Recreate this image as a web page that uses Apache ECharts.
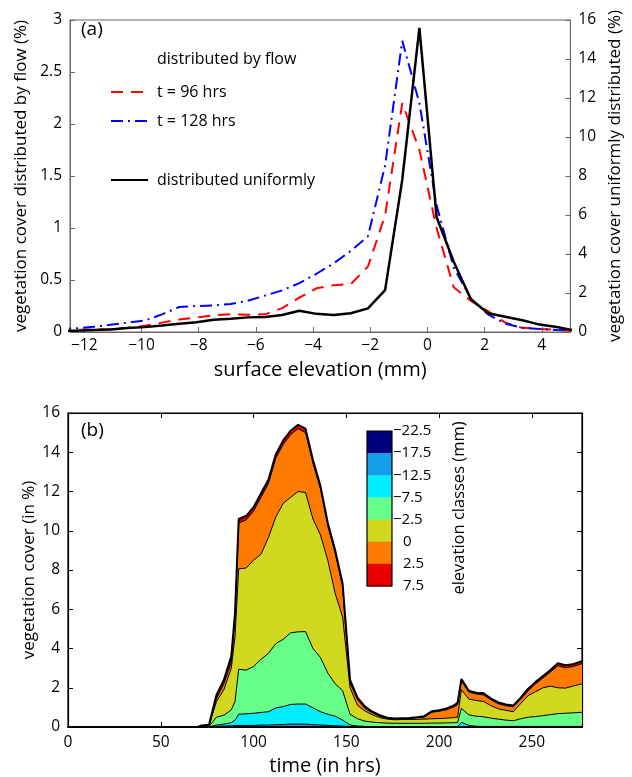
<!DOCTYPE html>
<html><head><meta charset="utf-8">
<script src="https://cdn.jsdelivr.net/npm/echarts@6/dist/echarts.min.js"></script>
<style>html,body{margin:0;padding:0;background:#fff}#c{width:632px;height:777px}</style>
</head><body><div id="c"></div>
<script>
// ---------- panel (a) ----------
const elevation = [-12.88, -12.28, -11.68, -11.08, -10.48, -9.88, -9.28, -8.68, -8.08, -7.48, -6.88, -6.28, -5.68, -5.08, -4.48, -3.88, -3.28, -2.68, -2.08, -1.48, -0.88, -0.28, 0.32, 0.92, 1.52, 2.12, 2.72, 3.32, 3.92, 4.52, 5.12];
const flow96  = [0.015, 0.02, 0.025, 0.03, 0.04, 0.06, 0.09, 0.12, 0.14, 0.16, 0.17, 0.165, 0.17, 0.23, 0.33, 0.42, 0.45, 0.46, 0.63, 1.12, 2.2, 1.75, 1.0, 0.43, 0.3, 0.2, 0.09, 0.04, 0.03, 0.02, 0.01];
const flow128 = [0.03, 0.035, 0.05, 0.07, 0.09, 0.11, 0.17, 0.24, 0.25, 0.255, 0.27, 0.30, 0.35, 0.40, 0.47, 0.56, 0.66, 0.78, 0.92, 1.6, 2.8, 2.2, 1.22, 0.62, 0.32, 0.17, 0.08, 0.04, 0.03, 0.02, 0.015];
const uniform = [0.05, 0.07, 0.1, 0.13, 0.2, 0.25, 0.33, 0.42, 0.5, 0.63, 0.68, 0.75, 0.77, 0.87, 1.09, 0.93, 0.87, 0.96, 1.21, 2.15, 7.8, 15.6, 5.9, 3.6, 1.68, 0.96, 0.78, 0.6, 0.38, 0.26, 0.08];
const elevTicks = [-12, -10, -8, -6, -4, -2, 0, 2, 4];

// ---------- panel (b) ----------
const times = [0, 70, 72, 76, 80, 84, 88, 90, 92, 96, 100, 104, 108, 112, 116, 120, 124, 128, 132, 136, 140, 144, 148, 152, 156, 160, 164, 168, 172, 176, 180, 184, 188, 192, 196, 200, 204, 208, 210, 212, 216, 220, 224, 228, 232, 236, 240, 244, 248, 252, 256, 260, 264, 268, 272, 277];
const classM225 = [0,0,0,0,0.01,0.01,0.01,0.01,0.02,0.02,0.02,0.02,0.02,0.03,0.03,0.03,0.03,0.03,0.03,0.02,0.02,0.01,0.01,0.01,0,0,0,0,0,0,0,0,0,0,0,0,0,0,0,0,0,0,0,0,0,0,0,0,0,0,0,0,0,0,0,0];
const classM175 = [0,0,0,0,0.03,0.04,0.05,0.06,0.06,0.06,0.06,0.08,0.08,0.09,0.10,0.12,0.12,0.12,0.09,0.08,0.06,0.05,0.04,0.01,0.01,0.01,0,0,0,0,0,0,0,0,0,0,0,0,0,0.02,0.01,0,0,0,0,0,0,0,0,0,0,0,0,0,0,0];
const classM125 = [0,0,0,0.01,0.06,0.10,0.16,0.28,0.57,0.59,0.62,0.64,0.68,0.85,0.91,1.00,1.02,1.02,0.86,0.68,0.57,0.49,0.30,0.08,0.04,0.02,0.02,0.02,0.02,0.02,0.02,0.02,0.02,0.02,0.02,0.02,0.02,0.02,0.03,0.22,0.07,0.04,0.03,0.03,0.03,0.03,0.03,0.03,0.03,0.03,0.03,0.03,0.03,0.03,0.03,0.03];
const classM75  = [0,0,0.01,0.02,0.40,0.45,0.65,0.95,2.29,2.23,2.38,2.71,2.97,3.28,3.43,3.65,3.68,3.69,3.02,2.77,2.10,1.65,1.50,0.55,0.37,0.27,0.23,0.20,0.18,0.17,0.17,0.17,0.17,0.17,0.18,0.18,0.19,0.20,0.20,0.71,0.54,0.51,0.49,0.42,0.37,0.32,0.29,0.39,0.47,0.50,0.55,0.60,0.65,0.67,0.69,0.72];
const classM25  = [0,0,0.02,0.03,0.79,1.30,2.13,3.30,5.12,5.20,5.42,5.35,5.90,6.45,6.93,6.90,7.15,7.09,6.60,6.25,5.75,4.60,3.75,1.35,0.68,0.52,0.37,0.26,0.20,0.18,0.19,0.19,0.20,0.21,0.22,0.23,0.24,0.26,0.27,0.95,0.80,0.80,0.78,0.63,0.52,0.50,0.46,0.78,1.10,1.27,1.42,1.45,1.32,1.28,1.36,1.45];
const class0    = [0,0,0.03,0.04,0.16,0.30,0.30,1.00,2.34,2.45,2.50,2.90,2.75,3.00,3.00,3.20,3.20,3.05,2.85,2.35,1.75,2.05,1.55,0.25,0.30,0.13,0.10,0.07,0.04,0.04,0.04,0.05,0.08,0.10,0.33,0.37,0.43,0.54,0.65,0.45,0.36,0.33,0.33,0.30,0.26,0.23,0.25,0.22,0.25,0.40,0.50,0.72,1.12,1.04,1.00,1.02];
const class25   = [0,0,0.02,0.02,0.18,0.20,0.30,0.20,0.20,0.20,0.20,0.20,0.20,0.20,0.20,0.20,0.20,0.20,0.15,0.15,0.15,0.15,0.15,0.15,0.10,0.10,0.06,0.05,0.03,0.02,0.03,0.03,0.03,0.05,0.05,0.05,0.07,0.08,0.10,0.10,0.07,0.07,0.09,0.07,0.07,0.07,0.07,0.08,0.10,0.10,0.10,0.10,0.13,0.13,0.12,0.13];
const classValues = [classM225, classM175, classM125, classM75, classM25, class0, class25];
const classNames  = ['−22.5 to −17.5', '−17.5 to −12.5', '−12.5 to −7.5', '−7.5 to −2.5', '−2.5 to 0', '0 to 2.5', '2.5 to 7.5'];
const classColors = ['#00007f', '#14a0e8', '#00eeff', '#66ff88', '#d0d820', '#ff7a00', '#e80000'];
const classBounds = ['−22.5', '−17.5', '−12.5', '−7.5', '−2.5', '0', '2.5', '7.5'];
const timeTicks = [0, 50, 100, 150, 200, 250];

const FONT = 'Open Sans';
const minus = v => String(v).replace('-', '\u2212');

// stacked layers: cumulative tops, drawn from the top layer downwards so each
// opaque area covers the part below the next boundary
const cumulative = [];
classValues.forEach((vals, k) => {
  cumulative.push(vals.map((v, i) => +(v + (k ? cumulative[k - 1][i] : 0)).toFixed(4)));
});
const areaSeries = [];
for (let k = classValues.length - 1; k >= 0; k--) {
  areaSeries.push({
    name: classNames[k], type: 'line', xAxisIndex: 1, yAxisIndex: 2,
    symbol: 'none', smooth: false,
    data: times.map((t, i) => [t, cumulative[k][i]]),
    lineStyle: { color: '#000', width: k === classValues.length - 1 ? 2 : 1 },
    areaStyle: { color: classColors[k], opacity: 1, origin: 'start' },
    itemStyle: { color: classColors[k] },
    emphasis: { disabled: true }
  });
}

// colorbar (legend of the classes), top = most negative class
const cbX = 367, cbY = 431, cbW = 25, cbH = 155;
const band = cbH / classColors.length;
const gfx = [];
for (let i = 0; i < classColors.length; i++) {
  gfx.push({ type: 'rect', shape: { x: cbX, y: cbY + i * band, width: cbW, height: band + 0.5 }, style: { fill: classColors[i] }, silent: true });
}
gfx.push({ type: 'rect', shape: { x: cbX, y: cbY, width: cbW, height: cbH }, style: { fill: 'none', stroke: '#000', lineWidth: 1.2 }, silent: true });
classBounds.forEach((lab, i) => {
  const neg = lab.startsWith('−');
  gfx.push({ type: 'text', x: neg ? cbX + cbW + 1 : cbX + cbW + 11, y: cbY + i * band,
    style: { text: lab, font: '15px "' + FONT + '"', fill: '#000', verticalAlign: 'middle', align: 'left' }, silent: true });
});
gfx.push({ type: 'text', x: 459, y: 508, rotation: Math.PI / 2,
  style: { text: 'elevation classes (mm)', font: '16.5px "' + FONT + '"', fill: '#000', align: 'center', verticalAlign: 'middle' }, silent: true });
gfx.push({ type: 'text', x: 81, y: 30, style: { text: '(a)', font: '19px "' + FONT + '"', fill: '#000', verticalAlign: 'middle' }, silent: true });
gfx.push({ type: 'text', x: 81, y: 431, style: { text: '(b)', font: '19px "' + FONT + '"', fill: '#000', verticalAlign: 'middle' }, silent: true });
gfx.push({ type: 'text', x: 157, y: 59, style: { text: 'distributed by flow', font: '16px "' + FONT + '"', fill: '#000', verticalAlign: 'middle' }, silent: true });

const grayAxis = '#666';
const lblStyle = { color: '#000', fontFamily: FONT, fontSize: 15.5 };
const nameStyle = { color: '#000', fontFamily: FONT, fontSize: 17 };
const xNameStyle = { color: '#000', fontFamily: FONT, fontSize: 20 };
const legendCommon = { left: 105, itemWidth: 37, itemHeight: 14, orient: 'vertical', selectedMode: false,
  itemStyle: { opacity: 0, borderWidth: 0 },
  textStyle: { color: '#000', fontFamily: FONT, fontSize: 16, padding: [0, 0, 0, 4] } };

const option = {
  animation: false,
  backgroundColor: '#fff',
  textStyle: { fontFamily: FONT },
  grid: [
    { left: 70, top: 20, width: 512, height: 312, show: true, borderColor: grayAxis, borderWidth: 1 },
    { left: 68, top: 413, width: 514, height: 314, show: true, borderColor: '#000', borderWidth: 1.2 }
  ],
  legend: [
    Object.assign({}, legendCommon, { top: 79, data: ['t = 96 hrs'] }),
    Object.assign({}, legendCommon, { top: 108, data: ['t = 128 hrs'] }),
    Object.assign({}, legendCommon, { top: 167, data: ['distributed uniformly'] })
  ],
  xAxis: [
    { type: 'value', gridIndex: 0, min: -12.5, max: 5,
      name: 'surface elevation (mm)', nameLocation: 'middle', nameGap: 28, nameTextStyle: xNameStyle,
      axisLine: { onZero: false, lineStyle: { color: grayAxis, width: 1 } },
      axisTick: { inside: true, length: 5, customValues: elevTicks, lineStyle: { color: grayAxis } },
      axisLabel: Object.assign({ customValues: elevTicks, margin: 6, formatter: minus }, lblStyle),
      splitLine: { show: false } },
    { type: 'value', gridIndex: 1, min: 0, max: 277,
      name: 'time (in hrs)', nameLocation: 'middle', nameGap: 29, nameTextStyle: xNameStyle,
      axisLine: { onZero: false, lineStyle: { color: '#000', width: 2 } },
      axisTick: { inside: true, length: 5, customValues: timeTicks, lineStyle: { color: '#000' } },
      axisLabel: Object.assign({ customValues: timeTicks, margin: 8 }, lblStyle),
      splitLine: { show: false } },
    { type: 'value', gridIndex: 1, min: 0, max: 277, position: 'top',
      axisLine: { onZero: false, lineStyle: { color: '#000', width: 1.2 } },
      axisTick: { inside: true, length: 5, customValues: timeTicks, lineStyle: { color: '#000' } },
      axisLabel: { show: false }, splitLine: { show: false } }
  ],
  yAxis: [
    { type: 'value', gridIndex: 0, min: 0, max: 3, interval: 0.5, position: 'left',
      name: 'vegetation cover distributed by flow (%)', nameLocation: 'middle', nameGap: 40, nameTextStyle: nameStyle,
      axisLine: { show: true, onZero: false, lineStyle: { color: grayAxis, width: 1 } },
      axisTick: { show: true, inside: true, length: 5, lineStyle: { color: grayAxis } },
      axisLabel: Object.assign({ margin: 8 }, lblStyle), splitLine: { show: false } },
    { type: 'value', gridIndex: 0, min: 0, max: 16, interval: 2, position: 'right',
      name: 'vegetation cover uniformly distributed (%)', nameLocation: 'middle', nameGap: 29, nameRotate: 90, nameTextStyle: nameStyle,
      axisLine: { show: true, onZero: false, lineStyle: { color: grayAxis, width: 1 } },
      axisTick: { show: true, inside: true, length: 5, lineStyle: { color: grayAxis } },
      axisLabel: Object.assign({ margin: 8 }, lblStyle), splitLine: { show: false } },
    { type: 'value', gridIndex: 1, min: 0, max: 16, interval: 2, position: 'left',
      name: 'vegetation cover (in %)', nameLocation: 'middle', nameGap: 30, nameMoveOverlap: false, nameTextStyle: nameStyle,
      axisLine: { show: true, onZero: false, lineStyle: { color: '#000', width: 1.2 } },
      axisTick: { show: true, inside: true, length: 5, lineStyle: { color: '#000' } },
      axisLabel: Object.assign({ margin: 8 }, lblStyle), splitLine: { show: false } },
    { type: 'value', gridIndex: 1, min: 0, max: 16, interval: 2, position: 'right',
      axisLine: { show: true, onZero: false, lineStyle: { color: '#000', width: 1.2 } },
      axisTick: { show: true, inside: true, length: 5, lineStyle: { color: '#000' } },
      axisLabel: { show: false }, splitLine: { show: false } }
  ],
  series: [
    { name: 't = 96 hrs', type: 'line', xAxisIndex: 0, yAxisIndex: 0, symbol: 'none',
      data: elevation.map((x, i) => [x, flow96[i]]),
      lineStyle: { color: '#ff0000', width: 2, type: [12, 8] }, itemStyle: { color: '#ff0000' }, z: 3 },
    { name: 't = 128 hrs', type: 'line', xAxisIndex: 0, yAxisIndex: 0, symbol: 'none',
      data: elevation.map((x, i) => [x, flow128[i]]),
      lineStyle: { color: '#0000ff', width: 2, type: [12, 5, 2, 5] }, itemStyle: { color: '#0000ff' }, z: 3 },
    { name: 'distributed uniformly', type: 'line', xAxisIndex: 0, yAxisIndex: 1, symbol: 'none',
      data: elevation.map((x, i) => [x, uniform[i]]),
      lineStyle: { color: '#000', width: 2.5 }, itemStyle: { color: '#000' }, z: 4 }
  ].concat(areaSeries),
  graphic: gfx
};
const chart = echarts.init(document.getElementById('c'), null, { renderer: 'canvas' });
chart.setOption(option);
</script></body></html>
